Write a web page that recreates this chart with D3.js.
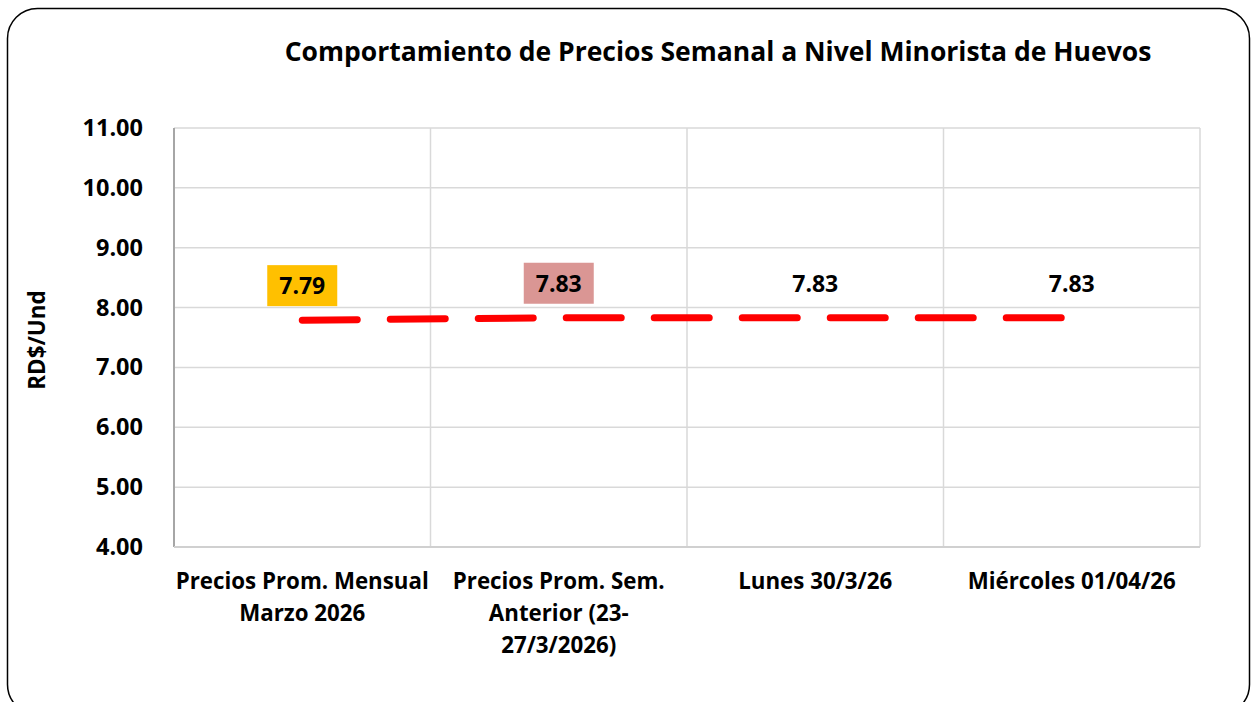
<!DOCTYPE html>
<html><head><meta charset="utf-8">
<script src="https://cdn.jsdelivr.net/npm/d3@7"></script>
<style>body{margin:0;background:#fff}svg{display:block}text{font-family:"Open Sans",Lato,sans-serif;font-weight:bold;fill:#000}</style>
</head><body><svg id="c" width="1252" height="702"></svg>
<script>
const categories = [["Precios Prom. Mensual","Marzo 2026"],["Precios Prom. Sem.","Anterior (23-","27/3/2026)"],["Lunes 30/3/26"],["Miércoles 01/04/26"]];
const values = [7.79, 7.83, 7.83, 7.83];
const labelFills = ["#ffc000", "#da9694", null, null];
const yTicks = [4,5,6,7,8,9,10,11];
const title = "Comportamiento de Precios Semanal a Nivel Minorista de Huevos";
const yTitle = "RD$/Und";

const svg = d3.select("#c");
svg.append("rect").attr("x",7.5).attr("y",8.5).attr("width",1242).attr("height",706).attr("rx",30).attr("fill","#fff").attr("stroke","#000").attr("stroke-width",1.5);

const L=174,R=1200,T=128,B=547;
const x = d3.scaleBand().domain(d3.range(categories.length)).range([L,R]).padding(0);
const y = d3.scaleLinear().domain([4,11]).range([B,T]);

svg.append("g").selectAll("line").data(yTicks).join("line")
 .attr("x1",L).attr("x2",R).attr("y1",d=>y(d)).attr("y2",d=>y(d)).attr("stroke","#d9d9d9").attr("stroke-width",1.5);
svg.append("g").selectAll("line").data(d3.range(1,categories.length+1)).join("line")
 .attr("x1",d=>L+d*x.bandwidth()).attr("x2",d=>L+d*x.bandwidth()).attr("y1",T).attr("y2",B).attr("stroke","#d9d9d9").attr("stroke-width",1.5);
svg.append("line").attr("x1",L).attr("x2",L).attr("y1",T).attr("y2",B).attr("stroke","#a6a6a6").attr("stroke-width",2);
svg.append("line").attr("x1",L).attr("x2",R).attr("y1",B).attr("y2",B).attr("stroke","#d0d0d0").attr("stroke-width",2);

svg.append("g").selectAll("text").data(yTicks).join("text")
 .attr("x",143).attr("y",d=>y(d)+8).attr("text-anchor","end").attr("font-size",23.5).text(d=>d3.format(".2f")(d));

svg.append("text").attr("transform","translate(45,340) rotate(-90)").attr("text-anchor","middle").attr("font-size",22.5).text(yTitle);

svg.append("text").attr("x",718).attr("y",61).attr("text-anchor","middle").attr("font-size",26.5).text(title);

const cx = i => x(i)+x.bandwidth()/2;
const cg = svg.append("g").selectAll("text").data(categories).join("text")
 .attr("text-anchor","middle").attr("font-size",22.3);
cg.each(function(lines,i){
  d3.select(this).selectAll("tspan").data(lines).join("tspan")
   .attr("x",cx(i)).attr("y",(d,j)=>589+j*32).text(d=>d);
});

const line = d3.line().x((d,i)=>cx(i)).y(d=>y(d));
svg.append("path").datum(values).attr("d",line).attr("fill","none").attr("stroke","#ff0000")
 .attr("stroke-width",7).attr("stroke-linecap","round").attr("stroke-dasharray","55 33");

const lg = svg.append("g").selectAll("g").data(values).join("g");
lg.each(function(v,i){
  const g=d3.select(this);
  const ty = y(v)-24;
  if(labelFills[i]) g.append("rect").attr("x",cx(i)-35).attr("y",ty-31).attr("width",70).attr("height",41).attr("fill",labelFills[i]);
  g.append("text").attr("x",cx(i)).attr("y",ty-2).attr("text-anchor","middle").attr("font-size",23).text(d3.format(".2f")(v));
});
</script></body></html>
